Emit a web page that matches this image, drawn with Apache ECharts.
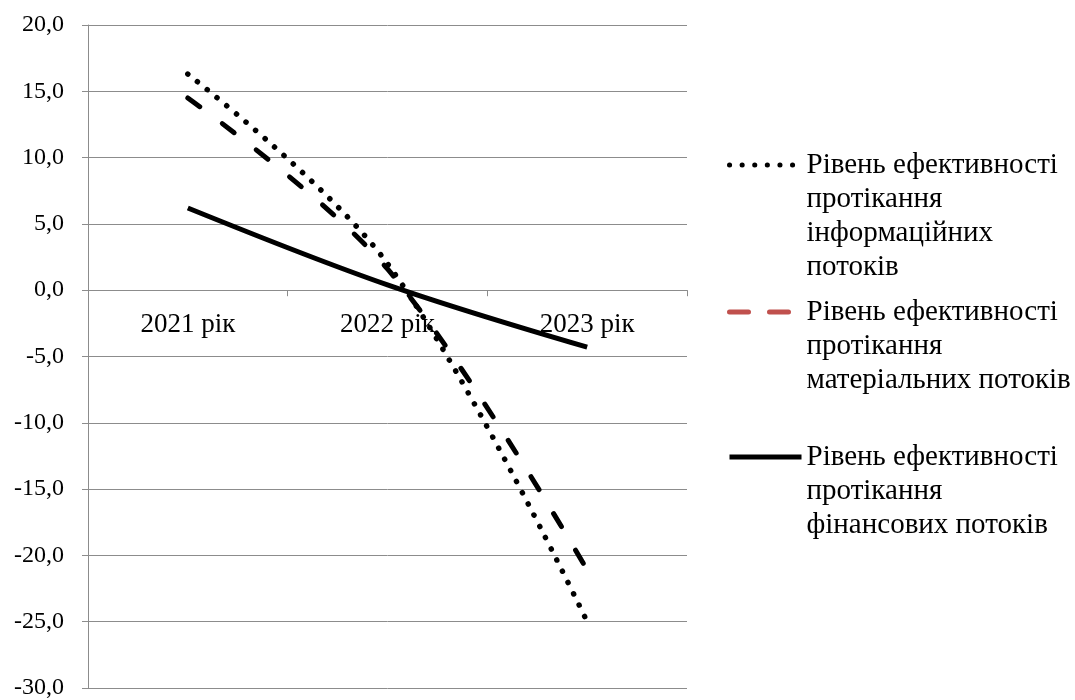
<!DOCTYPE html>
<html>
<head>
<meta charset="utf-8">
<script src="https://cdn.jsdelivr.net/npm/echarts@6/dist/echarts.min.js"></script>
<style>
  html, body { margin: 0; padding: 0; background: #fff; }
  #chart { width: 1075px; height: 700px; }
</style>
</head>
<body>
<div id="chart"></div>
<script>
// роки
const years = ['2021 рік', '2022 рік', '2023 рік']
// назви рядів
const seriesNames = [
  'Рівень ефективності\nпротікання\nінформаційних\nпотоків',
  'Рівень ефективності\nпротікання\nматеріальних потоків',
  'Рівень ефективності\nпротікання\nфінансових потоків'
]
const infoFlows = [16.3, 2.0, -25.0]
const materialFlows = [14.5, 1.6, -21.1]
const financeFlows = [6.2, 0.4, -4.3]

const serif = 'Liberation Serif'
const gridColor = '#8c8c8c'

const gridTop = 25
const gridBottom = 12
const yMin = -30
const yMax = 20
// зсув осі категорій до нуля (відстань від низу сітки до лінії нуля)
const plotH = 700 - gridTop - gridBottom
const zeroShift = plotH * (0 - yMin) / (yMax - yMin)

const chart = echarts.init(document.getElementById('chart'))

// легенда: окремий блок на кожен ряд, значок на рівні першого рядка
const lh = 34
function legendBlock(idx, firstLineY, lineStyle) {
  const lines = seriesNames[idx].split('\n').length
  const h = (2 * lines - 1) * lh
  return {
    orient: 'vertical',
    left: 727,
    top: firstLineY - h / 2,
    padding: 0,
    itemWidth: 72,
    itemHeight: 14,
    selectedMode: false,
    formatter: name => '\n'.repeat(lines - 1) + name,
    textStyle: {
      fontFamily: serif,
      fontSize: 29,
      color: '#000',
      lineHeight: lh
    },
    data: [{
      name: seriesNames[idx],
      lineStyle: lineStyle,
      itemStyle: { opacity: 0 }
    }]
  }
}

const option = {
  animation: false,
  grid: { left: 88, right: 388, top: gridTop, bottom: gridBottom, outerBoundsMode: 'none' },
  legend: [
    legendBlock(0, 165, { color: '#000', width: 5, type: [0.1, 12.5], cap: 'round' }),
    legendBlock(1, 312, { color: '#C0504D', width: 5, type: [19, 21], cap: 'round' }),
    legendBlock(2, 457, { color: '#000', width: 5, type: 'solid' })
  ],
  xAxis: {
    type: 'category',
    data: years,
    boundaryGap: true,
    offset: -zeroShift,
    axisLine: { onZero: false, lineStyle: { color: gridColor, width: 1 } },
    axisTick: { show: true, length: 6, lineStyle: { color: gridColor } },
    axisLabel: { fontFamily: serif, fontSize: 27, color: '#000', margin: 21 },
    splitLine: { show: false }
  },
  yAxis: {
    type: 'value',
    min: yMin,
    max: yMax,
    interval: 5,
    axisLine: { show: true, lineStyle: { color: gridColor, width: 1 } },
    axisTick: { show: true, length: 6, lineStyle: { color: gridColor } },
    axisLabel: {
      fontFamily: serif,
      fontSize: 24,
      color: '#000',
      margin: 24,
      formatter: v => v.toFixed(1).replace('.', ',')
    },
    splitLine: { show: true, lineStyle: { color: gridColor, width: 1 } }
  },
  series: [
    {
      name: seriesNames[0],
      type: 'line',
      data: infoFlows,
      smooth: 0.35,
      symbol: 'none',
      itemStyle: { color: '#000' },
      lineStyle: { color: '#000', width: 5.5, type: [0.1, 12.5], cap: 'round' }
    },
    {
      name: seriesNames[1],
      type: 'line',
      data: materialFlows,
      smooth: 0.35,
      symbol: 'none',
      itemStyle: { color: '#000' },
      lineStyle: { color: '#000', width: 5, type: [15, 28], cap: 'round' }
    },
    {
      name: seriesNames[2],
      type: 'line',
      data: financeFlows,
      smooth: 0.35,
      symbol: 'none',
      itemStyle: { color: '#000' },
      lineStyle: { color: '#000', width: 5, type: 'solid' }
    }
  ]
}

chart.setOption(option)
</script>
</body>
</html>
